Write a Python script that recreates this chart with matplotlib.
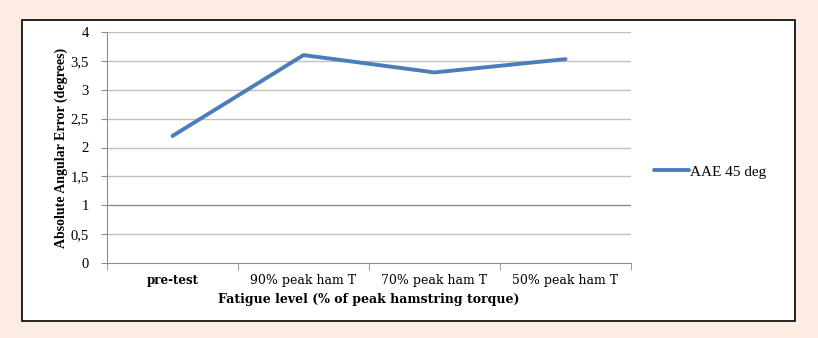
import matplotlib
matplotlib.use("Agg")
import matplotlib.pyplot as plt
from matplotlib.patches import Rectangle
import numpy as np

# data
categories = ["pre-test", "90% peak ham T", "70% peak ham T", "50% peak ham T"]
aae_45 = [2.2, 3.6, 3.3, 3.53]
yticks = [0, 0.5, 1, 1.5, 2, 2.5, 3, 3.5, 4]
yticklabels = ["0", "0,5", "1", "1,5", "2", "2,5", "3", "3,5", "4"]

serif = ["Liberation Serif", "DejaVu Serif"]
wide = ["DejaVu Serif"]

fig = plt.figure(figsize=(8.18, 3.38), dpi=100)
fig.patch.set_facecolor("#fdece2")

# white chart box with black frame (drawn behind the axes)
box = Rectangle((22 / 818, 1 - 321 / 338), (795 - 22) / 818, (321 - 20) / 338,
                transform=fig.transFigure, facecolor="white", edgecolor="black",
                linewidth=1.2, zorder=-1)
fig.patches.append(box)

ax = fig.add_axes([107 / 818, 1 - 263 / 338, (631 - 107) / 818, (263 - 32) / 338])
ax.set_facecolor("none")
ax.set_zorder(1)

x = np.arange(len(categories))
ax.plot(x, aae_45, color="#4a7ebb", linewidth=2.8, solid_capstyle="round",
        label="AAE 45 deg", zorder=3)

ax.set_xlim(-0.5, len(categories) - 0.5)
ax.set_ylim(0, 4)
ax.set_yticks(yticks)
ax.set_yticklabels(yticklabels, fontfamily=serif, fontsize=10.5)
ax.set_xticks(x)
ax.set_xticklabels(categories, fontfamily=wide, fontsize=9)
ax.get_xticklabels()[0].set_fontweight("bold")
ax.get_xticklabels()[0].set_fontsize(8.5)
ax.set_xticks(np.arange(len(categories) + 1) - 0.5, minor=True)

# gridlines
for yv in yticks[1:]:
    ax.axhline(yv, color="#8c8c8c" if yv == 1 else "#c0c0c0", linewidth=1, zorder=1)

for s in ["top", "right"]:
    ax.spines[s].set_visible(False)
ax.spines["left"].set_color("#8c8c8c")
ax.spines["bottom"].set_color("#8c8c8c")

ax.tick_params(axis="y", length=4, color="#8c8c8c", pad=9)
ax.tick_params(axis="x", which="major", length=0, pad=8)
ax.tick_params(axis="x", which="minor", length=5, color="#8c8c8c")

ax.set_xlabel("Fatigue level (% of peak hamstring torque)", fontfamily=wide,
              fontsize=9, fontweight="bold", labelpad=4)
ax.set_ylabel("Absolute Angular Error (degrees)", fontfamily=serif,
              fontsize=10, fontweight="bold", labelpad=2)

ax.legend(loc="center left", bbox_to_anchor=(1.017, 0.395), frameon=False,
          prop={"family": serif, "size": 11}, handlelength=2.3, handletextpad=0.05)

fig.savefig("out.png", dpi=100, facecolor=fig.get_facecolor())
